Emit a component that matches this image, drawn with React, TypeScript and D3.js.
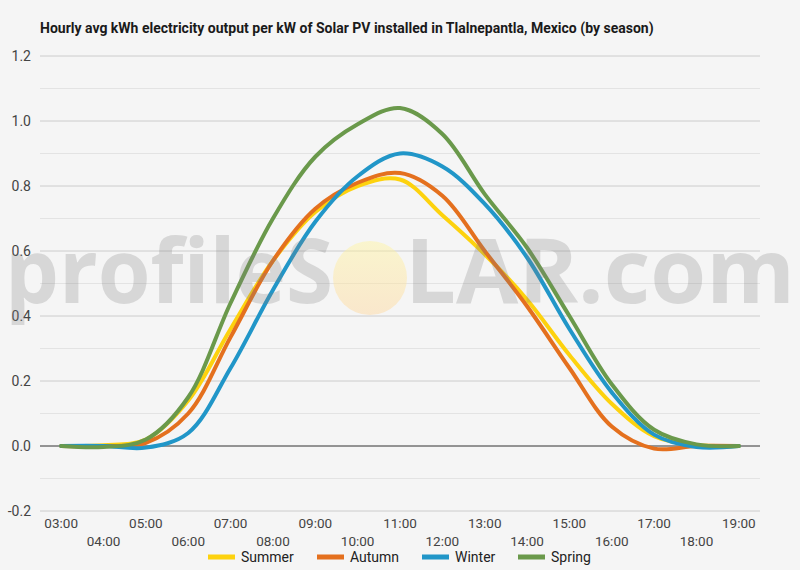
import React from 'react';
import * as d3 from 'd3';

const hours = ['03:00', '04:00', '05:00', '06:00', '07:00', '08:00', '09:00', '10:00', '11:00', '12:00', '13:00', '14:00', '15:00', '16:00', '17:00', '18:00', '19:00'];

const summer = [0, 0.002, 0.02, 0.14, 0.36, 0.57, 0.72, 0.8, 0.82, 0.71, 0.59, 0.45, 0.28, 0.13, 0.03, 0.003, 0];
const autumn = [0, 0, 0.01, 0.1, 0.335, 0.57, 0.73, 0.81, 0.84, 0.77, 0.6, 0.43, 0.24, 0.06, -0.008, 0, 0];
const winter = [0, 0, -0.005, 0.04, 0.24, 0.48, 0.69, 0.83, 0.9, 0.86, 0.745, 0.58, 0.36, 0.165, 0.035, -0.003, 0];
const spring = [0, -0.003, 0.02, 0.15, 0.44, 0.7, 0.89, 0.99, 1.04, 0.96, 0.775, 0.61, 0.4, 0.19, 0.05, 0.005, 0];

const seriesNames = ['Summer', 'Autumn', 'Winter', 'Spring'];
const seriesValues = [summer, autumn, winter, spring];
const seriesColors = ['#fdd20e', '#e4701e', '#2196c8', '#6a994b'];

const yTicks = [-0.2, 0, 0.2, 0.4, 0.6, 0.8, 1.0, 1.2];
const yMinor = [-0.1, 0.1, 0.3, 0.5, 0.7, 0.9, 1.1];

const W = 800;
const H = 570;
const margin = { top: 56, right: 40, bottom: 59, left: 40 };
const FONT = 'Roboto, "Noto Sans", sans-serif';

export default function App() {
  const x = d3.scalePoint<string>().domain(hours).range([margin.left, W - margin.right]).padding(0.5);
  const y = d3.scaleLinear().domain([-0.2, 1.2]).range([H - margin.bottom, margin.top]);

  const line = d3
    .line<number>()
    .x((_, i) => x(hours[i])!)
    .y((d) => y(d))
    .curve(d3.curveCatmullRom.alpha(0.5));

  const legendX = [208, 317, 422, 518];

  return (
    <svg
      width={W}
      height={H}
      style={{ position: 'absolute', left: 0, top: 0, display: 'block', background: '#f5f5f5' }}
      fontFamily={FONT}
    >
      <defs>
        <linearGradient id="sun" x1="0" y1="0" x2="0" y2="1">
          <stop offset="0%" stopColor="#fff59d" />
          <stop offset="100%" stopColor="#ffd699" />
        </linearGradient>
      </defs>
      <rect width={W} height={H} fill="#f5f5f5" />

      <text x={margin.left} y={33} fontSize={14} fontWeight="bold" fill="#1a1a1a">
        Hourly avg kWh electricity output per kW of Solar PV installed in Tlalnepantla, Mexico (by season)
      </text>

      {yMinor.map((t) => (
        <line key={'m' + t} x1={margin.left} x2={W - margin.right} y1={y(t)} y2={y(t)} stroke="#e3e3e3" strokeWidth={1} />
      ))}
      {yTicks.map((t) => (
        <g key={'t' + t}>
          {t !== 0 && (
            <line x1={margin.left} x2={W - margin.right} y1={y(t)} y2={y(t)} stroke="#cccccc" strokeWidth={1} />
          )}
          <text x={31} y={y(t)} dy="0.35em" textAnchor="end" fontSize={14} fill="#444">
            {t.toFixed(1)}
          </text>
        </g>
      ))}
      <line x1={margin.left} x2={W - margin.right} y1={y(0)} y2={y(0)} stroke="#333" strokeWidth={1} />

      {hours.map((h, i) => (
        <text
          key={h}
          x={x(h)}
          y={i % 2 === 0 ? 528 : 545.5}
          textAnchor="middle"
          fontSize={13.5}
          fill="#444"
        >
          {h}
        </text>
      ))}

      {seriesValues.map((vals, i) => (
        <path
          key={seriesNames[i]}
          d={line(vals) || ''}
          fill="none"
          stroke={seriesColors[i]}
          strokeWidth={4}
          strokeLinejoin="round"
          strokeLinecap="round"
        />
      ))}

      {/* watermark */}
      <g>
        <circle cx={370} cy={278} r={37} fill="url(#sun)" opacity={0.45} />
        <text x={5} y={303} fontSize={90} fontWeight={700} fill="#808080" opacity={0.25} textLength={328} lengthAdjust="spacingAndGlyphs" fontFamily="'Open Sans', sans-serif">
          profileS
        </text>
        <text x={405} y={303} fontSize={90} fontWeight={700} fill="#808080" opacity={0.25} textLength={390} lengthAdjust="spacingAndGlyphs" fontFamily="'Open Sans', sans-serif">
          LAR.com
        </text>
      </g>

      {seriesNames.map((n, i) => (
        <g key={'lg' + n}>
          <rect x={legendX[i]} y={554.5} width={27} height={5} fill={seriesColors[i]} />
          <text x={legendX[i] + 33} y={562} fontSize={14} fill="#222">
            {n}
          </text>
        </g>
      ))}
    </svg>
  );
}
